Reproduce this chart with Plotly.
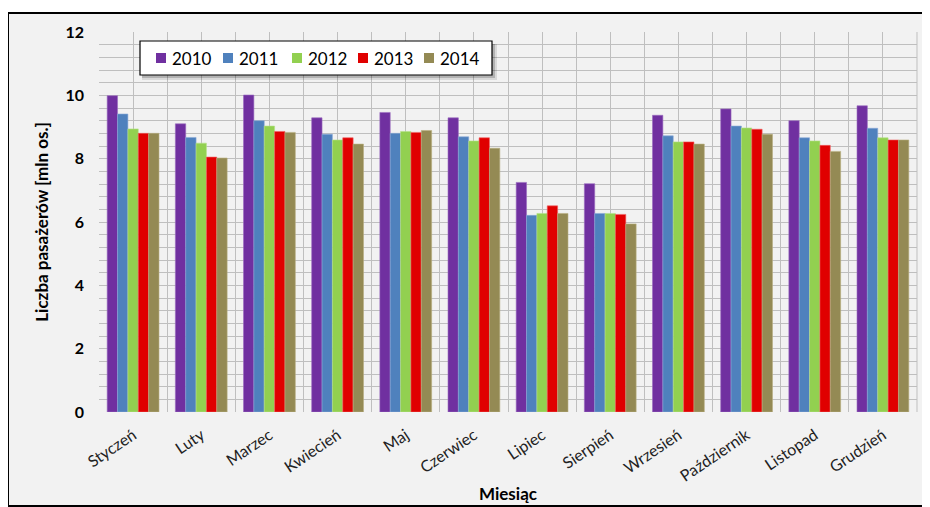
import plotly.graph_objects as go

months = ["Styczeń", "Luty", "Marzec", "Kwiecień", "Maj", "Czerwiec", "Lipiec",
          "Sierpień", "Wrzesień", "Październik", "Listopad", "Grudzień"]
years = ["2010", "2011", "2012", "2013", "2014"]

v2010 = [9.99, 9.10, 10.01, 9.29, 9.46, 9.29, 7.25, 7.21, 9.37, 9.57, 9.20, 9.67]
v2011 = [9.41, 8.67, 9.20, 8.77, 8.80, 8.69, 6.21, 6.27, 8.72, 9.03, 8.66, 8.96]
v2012 = [8.94, 8.49, 9.03, 8.59, 8.86, 8.56, 6.27, 6.27, 8.53, 8.97, 8.56, 8.66]
v2013 = [8.80, 8.05, 8.86, 8.66, 8.83, 8.66, 6.51, 6.24, 8.53, 8.93, 8.42, 8.59]
v2014 = [8.80, 8.02, 8.83, 8.46, 8.89, 8.33, 6.27, 5.94, 8.46, 8.77, 8.23, 8.59]

series = [v2010, v2011, v2012, v2013, v2014]
colors = ["#7030A0", "#4F81BD", "#92D050", "#E00000", "#948A54"]
edge = ["#9A6CC0", "#8AAAD6", "#B5E08A", "#F06060", "#B8AE80"]

yticks = [0, 2, 4, 6, 8, 10, 12]
xpos = list(range(len(months)))

FONT = "Lato, 'Liberation Sans', sans-serif"

# page body has an 8px margin; figure is sized so the plot lands where the reference has it
PW, PL = 818.0, 91.0  # plot width, left margin
PH, PT = 380.0, 24.0


def px_x(sx):
    return (sx - 8 - PL) / PW


def px_y(sy):
    return (PT + PH - (sy - 8)) / PH


fig = go.Figure()
for name, vals, c, e in zip(years, series, colors, edge):
    fig.add_trace(go.Bar(x=xpos, y=vals, name=name, showlegend=False,
                         marker=dict(color=c, line=dict(color=e, width=0.6))))

shapes = [
    dict(type="rect", xref="paper", yref="paper",
         x0=px_x(8), x1=px_x(927), y0=px_y(506), y1=px_y(13),
         line=dict(color="black", width=2), fillcolor="#F2F2F2", layer="below"),
    dict(type="line", xref="paper", yref="paper", x0=1, x1=1, y0=0, y1=1,
         line=dict(color="#BFBFBF", width=1)),
    # legend shadow (soft)
    dict(type="rect", xref="paper", yref="paper",
         x0=px_x(142), x1=px_x(497), y0=px_y(80), y1=px_y(44),
         line=dict(width=0), fillcolor="rgba(0,0,0,0.10)", layer="above"),
    dict(type="rect", xref="paper", yref="paper",
         x0=px_x(142), x1=px_x(495), y0=px_y(78), y1=px_y(44),
         line=dict(width=0), fillcolor="rgba(0,0,0,0.18)", layer="above"),
    # legend box
    dict(type="rect", xref="paper", yref="paper",
         x0=px_x(140), x1=px_x(492), y0=px_y(75), y1=px_y(41),
         line=dict(color="black", width=1.2), fillcolor="white", layer="above"),
]
annotations = []
marker_left = [156, 223, 292, 358, 424]
for yr, c, mx in zip(years, colors, marker_left):
    shapes.append(dict(type="rect", xref="paper", yref="paper",
                       x0=px_x(mx), x1=px_x(mx + 10), y0=px_y(63), y1=px_y(53),
                       line=dict(width=0), fillcolor=c, layer="above"))
    annotations.append(dict(text=yr, xref="paper", yref="paper", x=px_x(mx + 14), y=px_y(58),
                            xanchor="left", yanchor="middle", showarrow=False,
                            font=dict(family=FONT, size=17, color="black")))

fig.update_layout(
    width=922, height=499,
    margin=dict(l=91, r=13, t=24, b=95, autoexpand=False),
    paper_bgcolor="white",
    plot_bgcolor="#F2F2F2",
    barmode="group",
    bargap=0.24,
    bargroupgap=0,
    font=dict(family=FONT, size=14, color="#1a1a1a"),
    showlegend=False,
    xaxis=dict(
        tickmode="array", tickvals=xpos, ticktext=months,
        range=[-0.5, 11.5], tickangle=-34,
        showgrid=True, gridcolor="#BFBFBF", gridwidth=1,
        minor=dict(tickmode="array", tickvals=[i + 0.5 for i in range(-1, 12)],
                   showgrid=True, gridcolor="#BFBFBF", gridwidth=1),
        showline=False, zeroline=False, automargin=False,
        ticklabelstandoff=10,
        tickfont=dict(family=FONT, size=16, color="#222222"),
        title=dict(text="<b>Miesiąc</b>", font=dict(family=FONT, size=17, color="black"), standoff=4),
    ),
    yaxis=dict(
        range=[0, 12], tickmode="array", tickvals=yticks,
        ticktext=["<b>%d</b>" % t for t in yticks],
        showgrid=True, gridcolor="#BFBFBF", gridwidth=1,
        minor=dict(dtick=0.4, showgrid=True, gridcolor="#BFBFBF", gridwidth=1),
        zeroline=False, showline=False, ticks="", ticklen=0, automargin=False,
        ticklabelstandoff=14,
        tickfont=dict(family=FONT, size=16, color="black"),
        title=dict(text="<b>Liczba pasażerów [mln os.]</b>",
                   font=dict(family=FONT, size=17, color="black"), standoff=12),
    ),
    shapes=shapes,
    annotations=annotations,
)

fig.write_html("out.html")
